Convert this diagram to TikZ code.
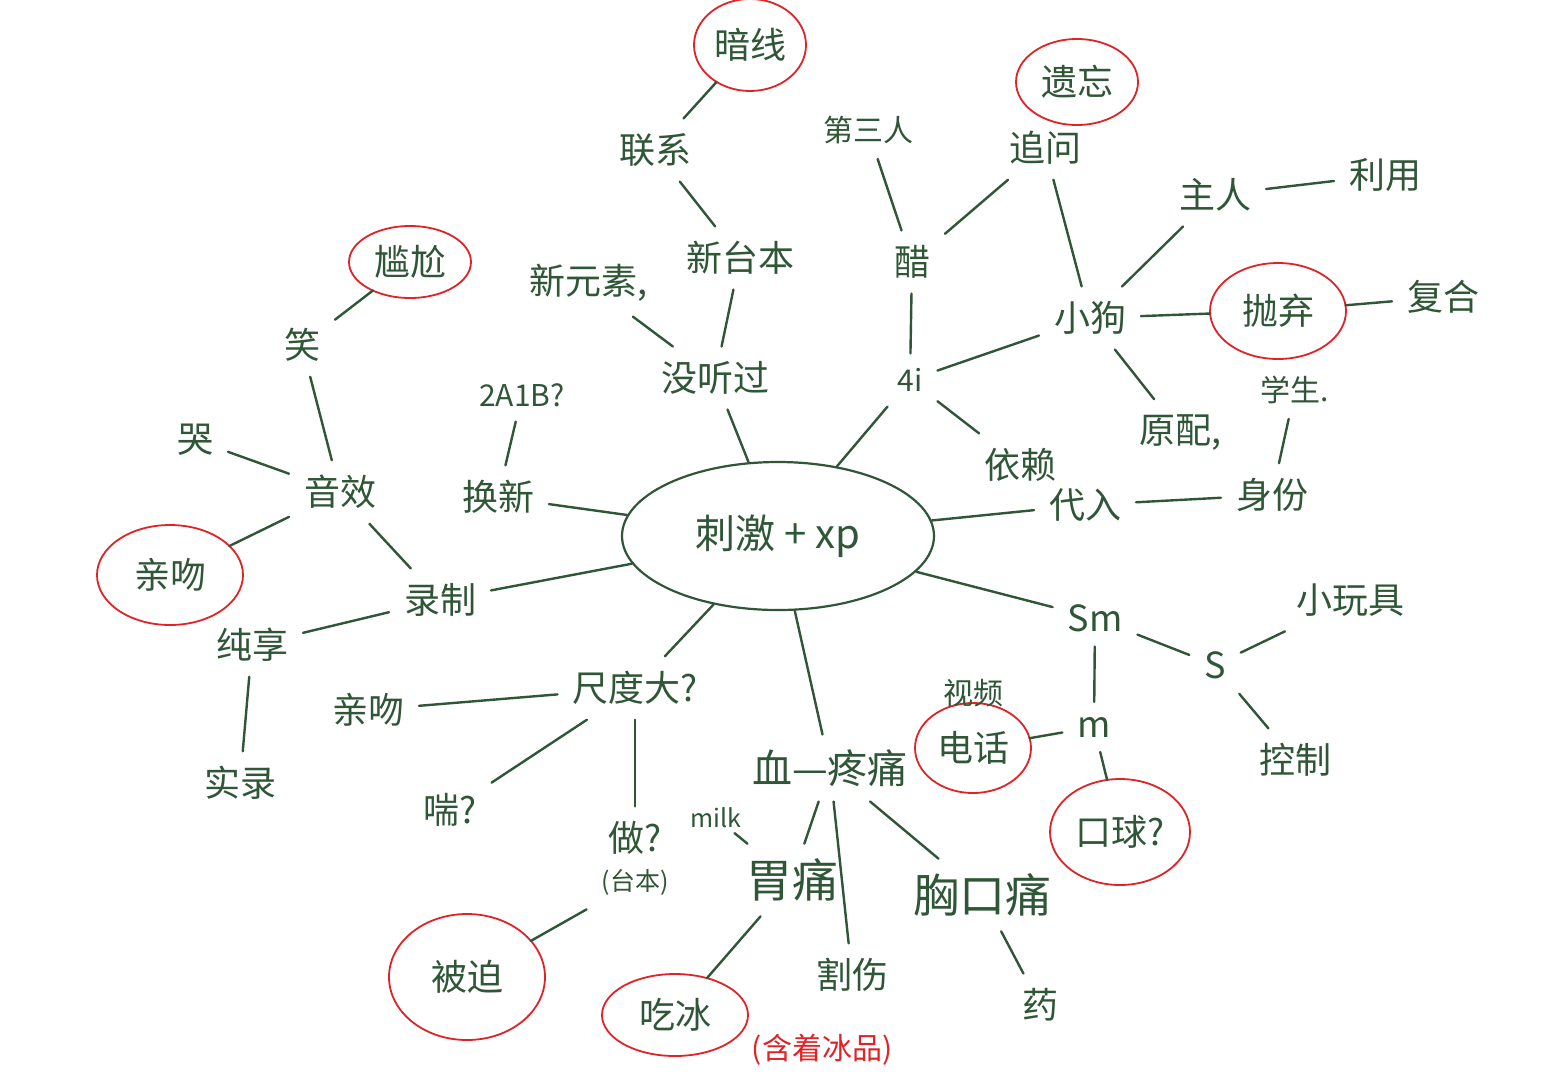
\documentclass[tikz,border=0pt]{standalone}
\usepackage{fontspec}
\setmainfont{Noto Sans CJK SC}
\usetikzlibrary{positioning,shapes.geometric}

\definecolor{pencil}{RGB}{47,86,54}
\definecolor{inkred}{RGB}{222,36,40}

\tikzset{
  word/.style={text=pencil,font=\fontsize{36}{40}\selectfont,inner sep=2pt,outer sep=13pt},
  bigword/.style={font=\fontsize{46}{50}\selectfont},
  smallword/.style={font=\fontsize{30}{34}\selectfont},
  tinyword/.style={font=\fontsize{25}{28}\selectfont},
  ring/.style={ellipse,draw=inkred,line width=1.8pt,outer sep=0pt},
  link/.style={draw=pencil,line width=2.4pt,line cap=round},
}

\begin{document}
\begin{tikzpicture}[x=1pt,y=-1pt,node distance=40pt,on grid]
    \useasboundingbox[fill=white] (0,0) rectangle (1554,1080);

    % middle
    \node[ellipse,draw=pencil,line width=2.2pt,minimum width=312pt,minimum height=148pt,
          text=pencil,font=\fontsize{40}{44}\selectfont] (c) at (778,536) {刺激 + xp};

    % up left
    \node[word]                      (hx)  at (498,497)   {换新};
    \node[word,smallword]            (ab)  at (522,395)   {2A1B?};
    \node[word]                      (mtg) at (715,378)   {没听过};
    \node[word]                      (xys) at (588,283)   {新元素,};
    \node[word]                      (xtb) at (740,258)   {新台本};
    \node[word]                      (lx)  at (655,150)   {联系};
    \node[word,ring,minimum width=112pt,minimum height=92pt] (ax) at (750,45) {暗线};

    % up right
    \node[word,smallword]            (dsr) at (868,130)   {第三人};
    \node[word]                      (cu)  at (912,262)   {醋};
    \node[word,smallword]            (si)  at (910,380)   {4i};
    \node[word]                      (zw)  at (1045,148)  {追问};
    \node[word,ring,minimum width=122pt,minimum height=86pt] (yw) at (1077,82) {遗忘};
    \node[word]                      (xg)  at (1090,318)  {小狗};
    \node[word]                      (zr)  at (1215,195)  {主人};
    \node[word]                      (ly)  at (1385,175)  {利用};
    \node[word,ring,minimum width=136pt,minimum height=96pt] (pq) at (1278,311) {抛弃};
    \node[word]                      (fh)  at (1443,297)  {复合};
    \node[word,smallword]            (xs)  at (1295,390)  {学生.};
    \node[word]                      (yp)  at (1180,432)  {原配,};
    \node[word]                      (yl)  at (1020,465)  {依赖};
    \node[word]                      (dr)  at (1085,505)  {代入};
    \node[word]                      (sf)  at (1272,495)  {身份};

    % right
    \node[word]                      (sm)  at (1095,618)  {Sm};
    \node[word]                      (s)   at (1215,665)  {S};
    \node[word]                      (xwj) at (1350,600)  {小玩具};
    \node[word]                      (kz)  at (1295,760)  {控制};
    \node[word]                      (m)   at (1094,727)  {m};
    \node[word,ring,minimum width=140pt,minimum height=106pt] (kq) at (1120,832) {口球?};
    \node[word,ring,minimum width=116pt,minimum height=90pt] (dh) at (973,748) {电话};
    \node[word,smallword]            (sp)  [above=55pt of dh] {视频};

    % down
    \node[word,font=\fontsize{40}{44}\selectfont] (tt) at (830,768) {血—疼痛};
    \node[word,tinyword,outer sep=3pt] (mk) at (716,818)  {milk};
    \node[word,bigword]              (wt)  at (792,880)   {胃痛};
    \node[word]                      (gs)  at (852,975)   {割伤};
    \node[word,bigword]              (xkt) at (982,895)   {胸口痛};
    \node[word]                      (yao) at (1040,1005) {药};
    \node[word,ring,minimum width=146pt,minimum height=82pt] (cb) at (675,1015) {吃冰};
    \node[text=inkred,font=\fontsize{30}{34}\selectfont] (hz) at (822,1050) {(含着冰品)};

    % down left
    \node[word]                      (cdd) at (635,688)   {尺度大?};
    \node[word]                      (zuo) at (635,838)   {做?};
    \node[word,tinyword]             (tb)  [below=44pt of zuo] {(台本)};
    \node[word,ring,minimum width=156pt,minimum height=126pt] (bp) at (467,977) {被迫};
    \node[word]                      (ch)  at (450,810)   {喘?};
    \node[word]                      (qw)  at (368,710)   {亲吻};

    % left
    \node[word]                      (lz)  at (440,600)   {录制};
    \node[word]                      (cx)  at (252,645)   {纯享};
    \node[word]                      (sl)  at (240,783)   {实录};
    \node[word]                      (yx)  at (340,492)   {音效};
    \node[word]                      (ku)  at (195,440)   {哭};
    \node[word]                      (xiao) at (302,345)  {笑};
    \node[word,ring,minimum width=122pt,minimum height=72pt] (gg) at (410,262) {尴尬};
    \node[word,ring,minimum width=146pt,minimum height=100pt] (qwr) at (170,575) {亲吻};

    \path[link] (c)   edge (hx)   (hx)  edge (ab)
                (c)   edge (mtg)  (mtg) edge (xys)
                (mtg) edge (xtb)  (xtb) edge (lx)
                (lx)  edge (ax)
                (c)   edge (si)   (si)  edge (cu)
                (cu)  edge (dsr)  (cu)  edge (zw)
                (zw)  edge (xg)   (xg)  edge (si)
                (xg)  edge (zr)   (zr)  edge (ly)
                (xg)  edge (pq)   (pq)  edge (fh)
                (xg)  edge (yp)   (si)  edge (yl)
                (c)   edge (dr)   (dr)  edge (sf)
                (xs)  edge (sf)
                (c)   edge (sm)   (sm)  edge (s)
                (s)   edge (xwj)  (s)   edge (kz)
                (sm)  edge (m)    (m)   edge (kq)
                (m)   edge (dh)
                (c)   edge (tt)   (tt)  edge (wt)
                (mk)  edge (wt)   (tt)  edge (gs)
                (tt)  edge (xkt)  (xkt) edge (yao)
                (wt)  edge (cb)
                (c)   edge (cdd)  (cdd) edge (qw)
                (cdd) edge (ch)   (cdd) edge (zuo)
                (tb)  edge (bp)
                (c)   edge (lz)   (lz)  edge (yx)
                (lz)  edge (cx)   (cx)  edge (sl)
                (yx)  edge (xiao) (xiao) edge (gg)
                (yx)  edge (ku)   (yx)  edge (qwr);
\end{tikzpicture}
\end{document}
